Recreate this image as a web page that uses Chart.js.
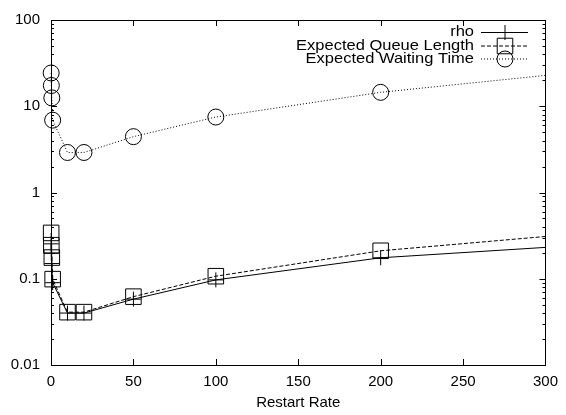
<!DOCTYPE html>
<html>
<head>
<meta charset="utf-8">
<script src="https://cdn.jsdelivr.net/npm/chart.js@4.4.0/dist/chart.umd.min.js"></script>
<style>
  html, body { margin: 0; padding: 0; background: #fff; }
</style>
</head>
<body>
<canvas id="chart" width="566" height="415"></canvas>
<script>
// data (log y)
const restartRate = [0.1, 0.2, 0.5, 1, 10, 20, 50, 100, 200, 300];
const rho = [0.254, 0.197, 0.150, 0.090, 0.040, 0.040, 0.058, 0.097, 0.175, 0.231];
const queueLength = [0.34, 0.245, 0.176, 0.099, 0.041, 0.041, 0.062, 0.107, 0.211, 0.309];
const waitingTime = [24.3, 17.4, 12.5, 6.9, 2.91, 2.91, 4.44, 7.5, 14.5, 22.8];
const xTicks = [0, 50, 100, 150, 200, 250, 300];
const yTicks = [0.01, 0.1, 1, 10, 100];

const FONT = '"Liberation Sans", Arial, sans-serif';
const pts = arr => restartRate.map((x, i) => ({ x: x, y: arr[i] }));
// last value is where the line leaves the frame, no marker there
const radii = r => restartRate.map((x, i) => i === restartRate.length - 1 ? 0 : r);

const series = [
  { label: 'rho', data: rho, dash: [], style: 'cross', r: 7.5 },
  { label: 'Expected Queue Length', data: queueLength, dash: [4, 2], style: 'rect', r: 11 },
  { label: 'Expected Waiting Time', data: waitingTime, dash: [1, 2], style: 'circle', r: 8 }
];

function marker(ctx, style, x, y, r) {
  ctx.beginPath();
  if (style === 'cross') {
    ctx.moveTo(x - r, y); ctx.lineTo(x + r, y);
    ctx.moveTo(x, y - r); ctx.lineTo(x, y + r);
  } else if (style === 'rect') {
    const s = r * Math.SQRT1_2;
    ctx.rect(x - s, y - s, 2 * s, 2 * s);
  } else {
    ctx.arc(x, y, r, 0, Math.PI * 2);
  }
  ctx.stroke();
}

// gnuplot style frame with inward ticks on all sides + key
const frame = {
  id: 'frame',
  afterDatasetsDraw(chart) {
    const { ctx, chartArea: a, scales } = chart;
    const x = scales.x, y = scales.y;
    ctx.save();
    ctx.strokeStyle = '#000';
    ctx.lineWidth = 1;
    ctx.setLineDash([]);
    ctx.strokeRect(Math.round(a.left) + 0.5, Math.round(a.top) + 0.5,
      Math.round(a.right - a.left), Math.round(a.bottom - a.top));
    ctx.beginPath();
    xTicks.forEach(v => {
      const px = Math.round(x.getPixelForValue(v)) + 0.5;
      ctx.moveTo(px, a.bottom); ctx.lineTo(px, a.bottom - 6);
      ctx.moveTo(px, a.top); ctx.lineTo(px, a.top + 6);
    });
    for (let k = -2; k <= 1; k++) {
      for (let m = 1; m <= 9; m++) {
        const py = Math.round(y.getPixelForValue(m * Math.pow(10, k))) + 0.5;
        const len = m === 1 ? 6 : 3;
        ctx.moveTo(a.left, py); ctx.lineTo(a.left + len, py);
        ctx.moveTo(a.right, py); ctx.lineTo(a.right - len, py);
      }
    }
    ctx.stroke();

    // key (gnuplot's font runs a bit wider than Arial)
    ctx.font = '15px ' + FONT;
    ctx.fillStyle = '#000';
    ctx.textAlign = 'right';
    ctx.textBaseline = 'middle';
    const rows = [32, 45.5, 58.5];
    series.forEach((s, i) => {
      const ry = rows[i];
      ctx.save();
      ctx.translate(474, ry);
      ctx.scale(1.1, 1);
      ctx.fillText(s.label, 0, 0);
      ctx.restore();
      ctx.setLineDash(s.dash);
      ctx.beginPath();
      ctx.moveTo(481, ry + 0.5); ctx.lineTo(528, ry + 0.5);
      ctx.stroke();
      ctx.setLineDash([]);
      marker(ctx, s.style, 505, ry + 0.5, s.r);
    });
    ctx.restore();
  }
};

new Chart(document.getElementById('chart'), {
  type: 'line',
  data: {
    datasets: series.map(s => ({
      label: s.label,
      data: pts(s.data),
      borderColor: '#000',
      borderWidth: 1,
      borderDash: s.dash,
      backgroundColor: 'rgba(0,0,0,0)',
      pointStyle: s.style,
      pointRadius: radii(s.r),
      pointBorderColor: '#000',
      pointBorderWidth: 1,
      pointBackgroundColor: 'rgba(0,0,0,0)',
      tension: 0,
      clip: false
    }))
  },
  options: {
    responsive: false,
    animation: false,
    devicePixelRatio: 1,
    layout: { padding: { left: 0, right: 18, top: 16, bottom: 3 } },
    plugins: { legend: { display: false }, tooltip: { enabled: false } },
    scales: {
      x: {
        type: 'linear',
        min: 0,
        max: 300,
        afterBuildTicks: scale => { scale.ticks = xTicks.map(v => ({ value: v })); },
        afterFit: scale => { scale.height = 47; },
        grid: { display: false, drawTicks: false },
        border: { display: false },
        ticks: { color: '#000', font: { family: FONT, size: 15 }, padding: 8, maxRotation: 0 },
        title: { display: true, text: 'Restart Rate', color: '#000', font: { family: FONT, size: 15 }, padding: 0 }
      },
      y: {
        type: 'logarithmic',
        min: 0.01,
        max: 100,
        afterBuildTicks: scale => { scale.ticks = yTicks.map(v => ({ value: v })); },
        afterFit: scale => { scale.width = 51; },
        grid: { display: false, drawTicks: false },
        border: { display: false },
        ticks: { color: '#000', font: { family: FONT, size: 15 }, padding: 11, callback: v => String(v) }
      }
    }
  },
  plugins: [frame]
});
</script>
</body>
</html>
